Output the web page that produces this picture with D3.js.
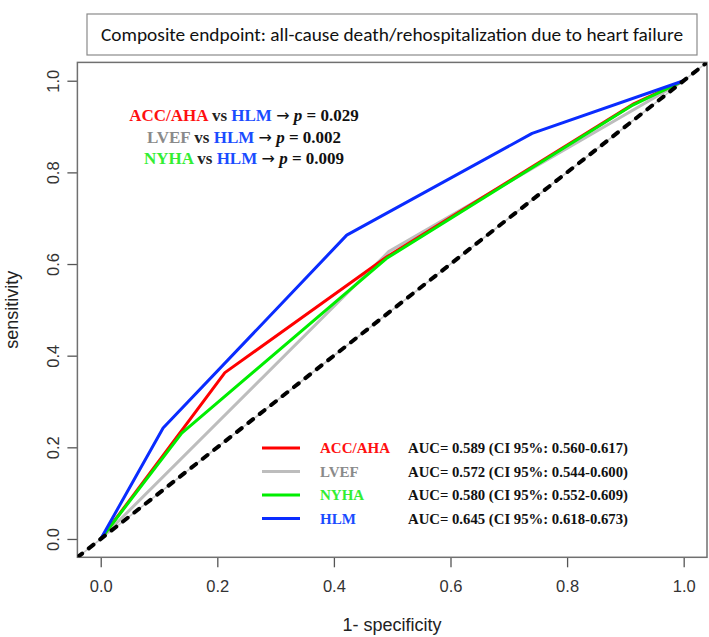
<!DOCTYPE html>
<html><head><meta charset="utf-8">
<script src="https://cdn.jsdelivr.net/npm/d3@7"></script>
<style>
html,body{margin:0;padding:0;background:#fff;}
svg{display:block;}
</style></head>
<body>
<svg id="chart" width="709" height="637"></svg>
<script>
// ---- data ----
const seriesNames = ["ACC/AHA", "LVEF", "NYHA", "HLM"];
const accahaFpr = [0, 0.213, 0.491, 0.915, 1];
const accahaTpr = [0, 0.363, 0.616, 0.950, 1];
const lvefFpr   = [0, 0.494, 1];
const lvefTpr   = [0, 0.627, 1];
const nyhaFpr   = [0, 0.139, 0.490, 0.910, 1];
const nyhaTpr   = [0, 0.231, 0.612, 0.945, 1];
const hlmFpr    = [0, 0.107, 0.422, 0.740, 1];
const hlmTpr    = [0, 0.242, 0.663, 0.885, 1];
const aucLabels = ["AUC= 0.589 (CI 95%: 0.560-0.617)",
                   "AUC= 0.572 (CI 95%: 0.544-0.600)",
                   "AUC= 0.580 (CI 95%: 0.552-0.609)",
                   "AUC= 0.645 (CI 95%: 0.618-0.673)"];
const pComparisons = ["ACC/AHA", "LVEF", "NYHA"];
const pValues = ["0.029", "0.002", "0.009"];
const tickValues = [0, 0.2, 0.4, 0.6, 0.8, 1.0];
const titleText = "Composite endpoint: all-cause death/rehospitalization due to heart failure";

// ---- styles ----
const lineColors = {"ACC/AHA":"#ff0000","LVEF":"#bdbdbd","NYHA":"#00ee00","HLM":"#0a2cff"};
const textColors = {"ACC/AHA":"#ff1010","LVEF":"#8a8a8a","NYHA":"#33ee33","HLM":"#1a4cff"};

const svg = d3.select("#chart");
const x = d3.scaleLinear().domain([-0.04, 1.04]).range([77.4, 707]);
const y = d3.scaleLinear().domain([-0.04, 1.04]).range([557.3, 62.4]);

// title box
svg.append("rect").attr("x", 87).attr("y", 14).attr("width", 610).attr("height", 41)
  .attr("fill", "#fff").attr("stroke", "#8a8a8a").attr("stroke-width", 1.2);
svg.append("text").attr("x", 392).attr("y", 41).attr("text-anchor", "middle")
  .attr("font-family", "Carlito, 'Open Sans', 'Noto Sans', sans-serif").attr("font-size", 18.5)
  .attr("fill", "#111").attr("textLength", 582).attr("lengthAdjust", "spacingAndGlyphs")
  .text(titleText);

// axes
const xAxis = d3.axisBottom(x).tickValues(tickValues).tickFormat(d3.format(".1f")).tickSize(10).tickPadding(13);
const yAxis = d3.axisLeft(y).tickValues(tickValues).tickFormat(d3.format(".1f")).tickSize(10).tickPadding(0);

const gx = svg.append("g").attr("transform", `translate(0,${y(-0.04)})`).call(xAxis);
gx.select(".domain").remove();
gx.selectAll("line").attr("stroke", "#555").attr("stroke-width", 1.3);
gx.selectAll("text").attr("font-family", "'Liberation Sans', Arial, sans-serif").attr("font-size", 16.5).attr("fill", "#333");

const gy = svg.append("g").attr("transform", `translate(${x(-0.04)},0)`).call(yAxis);
gy.select(".domain").remove();
gy.selectAll("line").attr("stroke", "#555").attr("stroke-width", 1.3);
gy.selectAll("text").attr("font-family", "'Liberation Sans', Arial, sans-serif").attr("font-size", 16.5).attr("fill", "#333")
  .attr("text-anchor", "middle").attr("dy", null)
  .attr("transform", d => `translate(${-24},0) rotate(-90)`).attr("x", 0).attr("y", 0)
  .attr("dominant-baseline", "central");

// plot box
svg.append("rect").attr("x", x(-0.04)).attr("y", y(1.04))
  .attr("width", x(1.04) - x(-0.04)).attr("height", y(-0.04) - y(1.04))
  .attr("fill", "none").attr("stroke", "#707070").attr("stroke-width", 1.5);

// axis titles
svg.append("text").attr("x", 392).attr("y", 631).attr("text-anchor", "middle")
  .attr("font-family", "'Liberation Sans', Arial, sans-serif").attr("font-size", 18).attr("fill", "#222")
  .text("1- specificity");
svg.append("text").attr("transform", `translate(18,${(y(0)+y(1))/2}) rotate(-90)`).attr("text-anchor", "middle")
  .attr("font-family", "'Liberation Sans', Arial, sans-serif").attr("font-size", 18).attr("fill", "#222")
  .text("sensitivity");

// clip
svg.append("clipPath").attr("id", "clip").append("rect")
  .attr("x", x(-0.04)).attr("y", y(1.04)).attr("width", x(1.04) - x(-0.04)).attr("height", y(-0.04) - y(1.04));
const plot = svg.append("g").attr("clip-path", "url(#clip)");

// diagonal reference
const diag = [-0.04, 1.04];
plot.append("line").attr("x1", x(diag[0])).attr("y1", y(diag[0])).attr("x2", x(diag[1])).attr("y2", y(diag[1]))
  .attr("stroke", "#c8c8c8").attr("stroke-width", 1.5);

// curves
const line = d3.line().x(d => x(d[0])).y(d => y(d[1]));
const series = [
  {name:"LVEF", fpr:lvefFpr, tpr:lvefTpr},
  {name:"ACC/AHA", fpr:accahaFpr, tpr:accahaTpr},
  {name:"NYHA", fpr:nyhaFpr, tpr:nyhaTpr},
  {name:"HLM", fpr:hlmFpr, tpr:hlmTpr}
];
series.forEach(s => {
  const pts = s.fpr.map((f, i) => [f, s.tpr[i]]);
  plot.append("path").attr("d", line(pts)).attr("fill", "none")
    .attr("stroke", lineColors[s.name]).attr("stroke-width", 3).attr("stroke-linejoin", "round");
});

plot.append("line").attr("x1", x(diag[0])).attr("y1", y(diag[0])).attr("x2", x(diag[1])).attr("y2", y(diag[1]))
  .attr("stroke", "#000").attr("stroke-width", 4).attr("stroke-dasharray", "6 8.5").attr("stroke-linecap", "round");

// annotation
const serif = "'Liberation Serif', 'Times New Roman', serif";
const annY = [121, 143, 164];
pComparisons.forEach((name, i) => {
  const t = svg.append("text").attr("x", 244).attr("y", annY[i]).attr("text-anchor", "middle")
    .attr("font-family", serif).attr("font-size", 17).attr("font-weight", "bold");
  t.append("tspan").attr("fill", textColors[name]).text(name);
  t.append("tspan").attr("fill", "#222").text(" vs ");
  t.append("tspan").attr("fill", textColors["HLM"]).text("HLM");
  t.append("tspan").attr("fill", "#111").text(" ");
  t.append("tspan").attr("fill", "#111").attr("font-family", "'DejaVu Sans', sans-serif")
    .attr("font-weight", "normal").attr("font-size", 16).text("\u2192");
  t.append("tspan").attr("fill", "#111").text(" ");
  t.append("tspan").attr("fill", "#111").attr("font-style", "italic").text("p");
  t.append("tspan").attr("fill", "#111").text(" = " + pValues[i]);
});

// legend
const legY = [448, 471.5, 495, 518.5];
seriesNames.forEach((name, i) => {
  svg.append("line").attr("x1", 262).attr("x2", 300).attr("y1", legY[i]).attr("y2", legY[i])
    .attr("stroke", lineColors[name]).attr("stroke-width", 3);
  svg.append("text").attr("x", 320).attr("y", legY[i] + 5).attr("font-family", serif)
    .attr("font-size", 15).attr("font-weight", "bold").attr("fill", textColors[name]).text(name);
  svg.append("text").attr("x", 408).attr("y", legY[i] + 5).attr("font-family", serif)
    .attr("font-size", 15).attr("font-weight", "bold").attr("fill", "#111")
    .attr("textLength", 220).attr("lengthAdjust", "spacingAndGlyphs").text(aucLabels[i]);
});
</script>
</body></html>
